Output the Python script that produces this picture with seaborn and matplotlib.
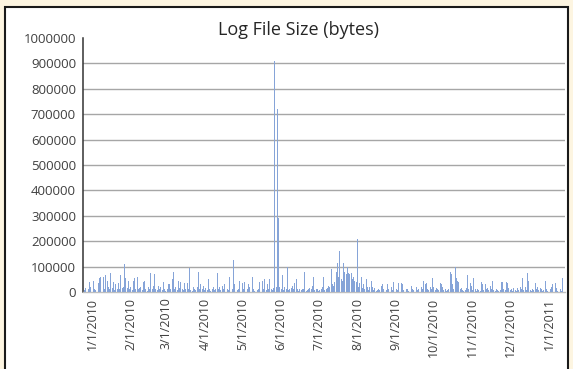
import datetime as dt
import matplotlib
matplotlib.use("Agg")
import matplotlib.pyplot as plt
from matplotlib.patches import Rectangle
import pandas as pd
import seaborn as sns

# Daily log file size in thousands of bytes, one list per month
dec_2009 = [8, 15, 12, 10, 38, 20]  # from Dec 26
jan_2010 = [45, 45, 10, 8, 18, 35, 55, 60, 15, 60, 12, 65, 45, 20, 10, 75, 15, 40, 8, 30,
            12, 35, 10, 65, 15, 20, 110, 55, 15, 45, 10]
feb_2010 = [20, 8, 45, 55, 12, 60, 10, 15, 20, 8, 40, 45, 10, 5, 20, 10, 75, 12, 25, 70,
            10, 8, 25, 10, 20, 8, 40, 12]
mar_2010 = [5, 10, 30, 30, 12, 50, 80, 10, 20, 8, 45, 15, 40, 10, 8, 35, 12, 35, 10, 95,
            8, 5, 20, 10, 8, 20, 80, 12, 30, 10, 25]
apr_2010 = [8, 15, 8, 50, 10, 5, 10, 20, 8, 10, 75, 12, 20, 8, 25, 10, 30, 50, 12, 8,
            60, 15, 10, 125, 30, 10, 8, 12, 45, 10]
may_2010 = [35, 12, 40, 8, 10, 30, 20, 8, 60, 10, 5, 15, 8, 10, 40, 12, 45, 10, 50, 8,
            30, 10, 50, 12, 8, 15, 910, 20, 720, 290, 20]
jun_2010 = [10, 65, 8, 20, 10, 100, 8, 12, 15, 25, 10, 35, 50, 10, 5, 10, 8, 12, 10, 80,
            5, 8, 10, 15, 10, 25, 60, 8, 12, 10]
jul_2010 = [5, 8, 10, 20, 60, 8, 10, 15, 25, 20, 90, 30, 25, 40, 80, 115, 60, 160, 50, 45,
            115, 80, 70, 100, 75, 70, 75, 50, 60, 45, 40]
aug_2010 = [210, 20, 35, 60, 15, 30, 10, 50, 20, 8, 20, 45, 20, 8, 15, 5, 8, 10, 8, 25,
            30, 10, 15, 8, 30, 10, 40, 20, 8, 40, 10]
sep_2010 = [10, 8, 35, 10, 35, 30, 8, 35, 10, 10, 5, 8, 25, 10, 8, 105, 20, 8, 10, 5,
            20, 10, 45, 30, 35, 10, 8, 20, 10, 55]
oct_2010 = [20, 8, 15, 10, 8, 35, 30, 20, 8, 10, 5, 8, 10, 80, 70, 30, 10, 100, 55, 45,
            40, 10, 15, 8, 5, 8, 15, 65, 10, 35, 25]
nov_2010 = [8, 55, 10, 5, 10, 8, 5, 40, 30, 8, 30, 10, 15, 8, 25, 10, 45, 8, 5, 10,
            8, 5, 8, 40, 40, 10, 8, 40, 35, 15]
dec_2010 = [8, 10, 5, 15, 8, 5, 15, 8, 20, 10, 55, 8, 20, 8, 75, 45, 8, 5, 10, 8,
            35, 10, 20, 8, 15, 10, 5, 8, 45, 10, 5]
jan_2011 = [5, 10, 20, 30, 8, 35, 15, 5, 8, 10, 5, 55]

start_date = dt.date(2009, 12, 26)
month_ticks = ["1/1/2010", "2/1/2010", "3/1/2010", "4/1/2010", "5/1/2010", "6/1/2010",
               "7/1/2010", "8/1/2010", "9/1/2010", "10/1/2010", "11/1/2010",
               "12/1/2010", "1/1/2011"]
y_ticks = [0, 100000, 200000, 300000, 400000, 500000, 600000, 700000, 800000,
           900000, 1000000]

sizes_kb = (dec_2009 + jan_2010 + feb_2010 + mar_2010 + apr_2010 + may_2010 + jun_2010
            + jul_2010 + aug_2010 + sep_2010 + oct_2010 + nov_2010 + dec_2010 + jan_2011)
dates = [start_date + dt.timedelta(days=i) for i in range(len(sizes_kb))]
labels = [f"{d.month}/{d.day}/{d.year}" for d in dates]
df = pd.DataFrame({"date": labels, "bytes": [v * 1000 for v in sizes_kb]})

sns.set_theme(style="white")
plt.rcParams["font.family"] = ["Open Sans", "DejaVu Sans"]

W, H = 573, 369
fig = plt.figure(figsize=(W / 100, H / 100), dpi=100, facecolor="#FDF5E1")

# white chart panel with dark border
panel = Rectangle((5 / W, -0.05), 563 / W, (H - 7) / H + 0.05, transform=fig.transFigure,
                  facecolor="white", edgecolor="#1a1a1a", linewidth=1.5, zorder=-1)
fig.patches.append(panel)

left, right, top, bottom = 83, 565, 38, 292
ax = fig.add_axes([left / W, (H - bottom) / H, (right - left) / W, (bottom - top) / H])
ax.set_facecolor("none")

sns.barplot(data=df, x="date", y="bytes", order=labels, color="#86A4D8", saturation=1,
            width=0.75, linewidth=0, ax=ax, zorder=3)

n = len(labels)
ax.set_xlim(-1.2, n - 1 + 1.8)
ax.set_ylim(0, 1000000)

tick_pos = [labels.index(t) for t in month_ticks]
ax.set_xticks(tick_pos)
ax.set_xticklabels(month_ticks, rotation=90, fontsize=9, color="#404040")
ax.set_yticks(y_ticks)
ax.set_yticklabels([str(v) for v in y_ticks], fontsize=9.5, color="#404040")
ax.tick_params(axis="both", length=0, pad=5)
ax.tick_params(axis="x", pad=4)

for v in y_ticks[1:-1]:
    ax.axhline(v, color="#A6A6A6", linewidth=1, zorder=1)

for s in ["top", "right"]:
    ax.spines[s].set_visible(False)
ax.spines["left"].set_color("#333333")
ax.spines["left"].set_linewidth(1.1)
ax.spines["bottom"].set_color("#BFBFBF")
ax.spines["bottom"].set_linewidth(1)
ax.set_xlabel("")
ax.set_ylabel("")

fig.text(299 / W, (H - 30) / H, "Log File Size (bytes)", ha="center", va="center",
         fontsize=13, color="#262626")

fig.savefig("out.png", dpi=100, facecolor=fig.get_facecolor())
